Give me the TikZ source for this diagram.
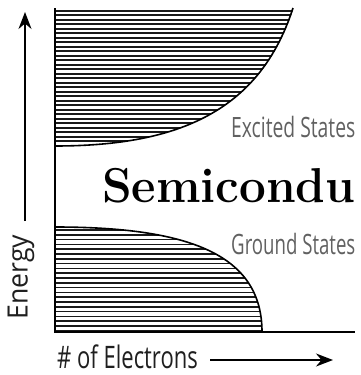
\documentclass[tikz,border=0pt]{standalone}
\usepackage{fontspec}
\newfontfamily\labelfont{Open Sans}
\usetikzlibrary{arrows.meta}
\begin{document}
\begin{tikzpicture}[x=1pt,y=-1pt,
  axis/.style={line width=1.8pt, black},
  hatchline/.style={line width=1.6pt, black!90},
  edge/.style={line width=1.6pt, black},
  graylabel/.style={text=black!62, font=\labelfont\fontsize{28}{28}\selectfont, inner sep=0pt},
  axlabel/.style={text=black!88, font=\labelfont\fontsize{31}{31}\selectfont, inner sep=0pt},
  arr/.style={line width=1.5pt, -{Stealth[length=17pt,width=13pt]}}
]
\useasboundingbox (0,0) rectangle (360,375);
% upper band (excited states)
\begin{scope}
  \clip (55,10) -- (293,10) .. controls (260,110) and (180,146) .. (55,146) -- cycle;
  \foreach \y in {10.7,15.2,...,147} \draw[hatchline] (50,\y) -- (300,\y);
\end{scope}
\draw[edge] (293,8) .. controls (260,110) and (180,146) .. (55,146);
% lower band (ground states)
\begin{scope}
  \clip (55,227) .. controls (190,227) and (262,255) .. (262,332) -- (55,332) -- cycle;
  \foreach \y in {230,234.8,...,333} \draw[hatchline] (50,\y) -- (270,\y);
\end{scope}
\draw[edge] (55,227) .. controls (190,227) and (262,255) .. (262,332);
% axes
\coordinate (top) at (55,8);
\coordinate (origin) at (55,332);
\coordinate (xend) at (355,332);
\draw[axis] (top) -- (origin) -- (xend);
% labels
\node[graylabel, anchor=west] (exc) at (231,127) {\scalebox{0.69}[1]{Excited States}};
\node[graylabel, anchor=west] (gnd) at (231,244) {\scalebox{0.665}[1]{Ground States}};
\node[anchor=base west, inner sep=0pt, font=\bfseries\fontsize{49}{49}\selectfont] (title) at (102,202) {\scalebox{0.97}[1]{Semicondu}};
\node[axlabel, rotate=90, anchor=center, font=\labelfont\fontsize{28}{28}\selectfont] (energy) at (21,277) {\scalebox{0.95}[1]{Energy}};
\node[axlabel, anchor=west] (elec) at (57,357) {\scalebox{0.71}[1]{\# of Electrons}};
% arrows
\coordinate (ea) at (25,221);
\coordinate (eb) at (25,12);
\draw[arr] (ea) -- (eb);
\coordinate (xa) at (210,360);
\coordinate (xb) at (333,360);
\draw[arr] (xa) -- (xb);
\end{tikzpicture}
\end{document}
